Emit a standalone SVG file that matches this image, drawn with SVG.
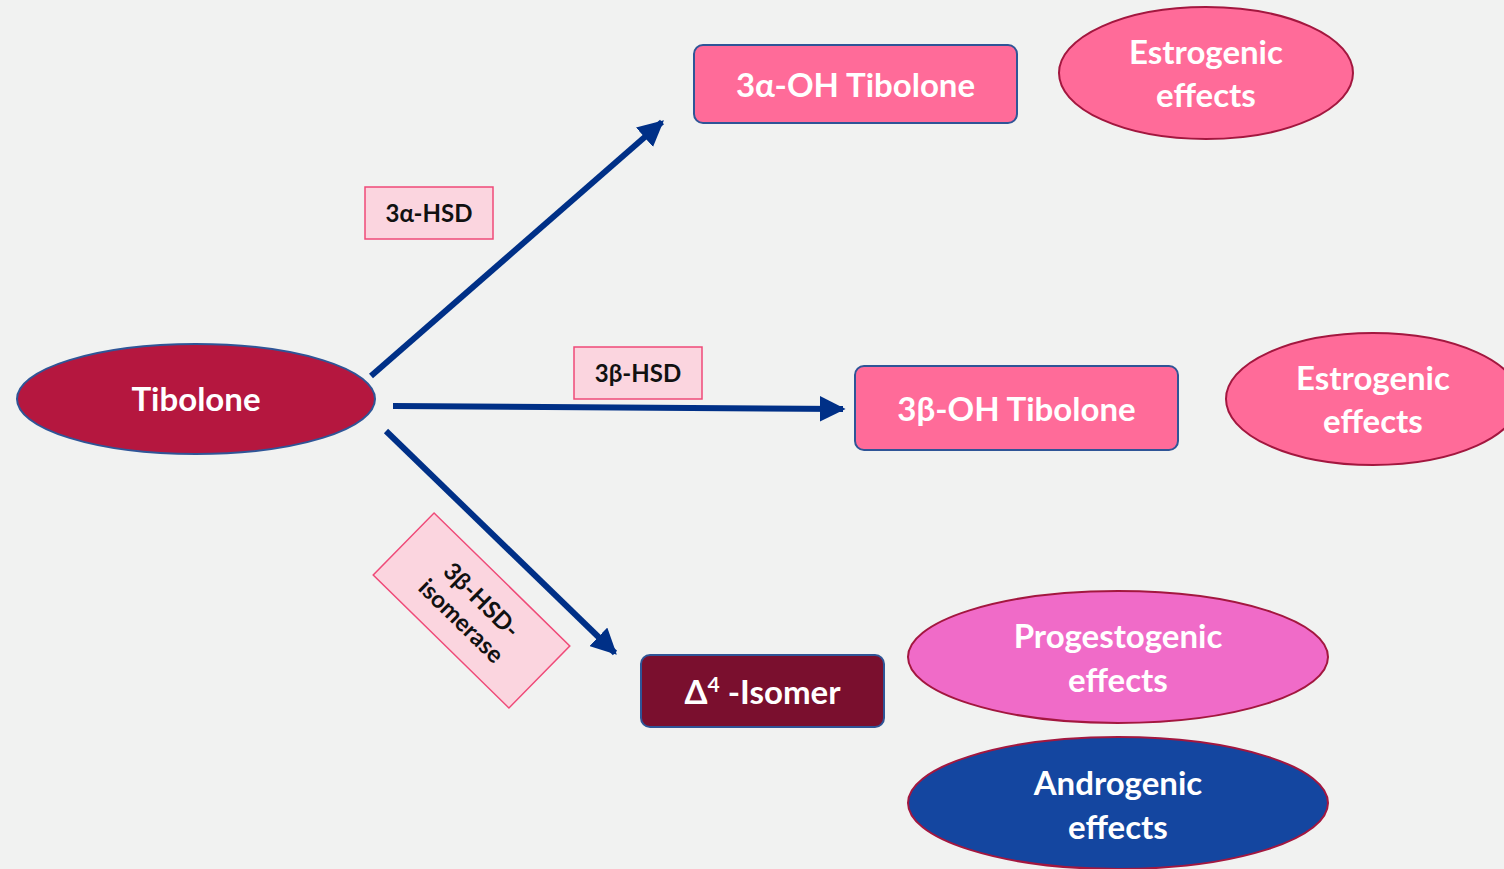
<svg xmlns="http://www.w3.org/2000/svg" width="1504" height="869" viewBox="0 0 1504 869">
<defs>
<marker id="ah" viewBox="0 0 10 10" refX="9" refY="5" markerWidth="4.3" markerHeight="4.3" orient="auto" markerUnits="strokeWidth">
<path d="M0,0 L10,5 L0,10 Z" fill="#003087"/>
</marker>
<style>
text{font-family:Lato,"Open Sans","Liberation Sans",sans-serif;font-weight:bold;text-anchor:middle;}
.big{font-size:33px;fill:#ffffff;}
.lbl{font-size:24px;fill:#111111;}
.lblbox{fill:#fbd5df;stroke:#ef4a78;stroke-width:1.5;}
.conn{stroke:#003087;stroke-width:6;fill:none;marker-end:url(#ah);}
.prod{stroke:#2f5597;stroke-width:2;}
.eff{stroke:#a3173f;stroke-width:2;}
</style>
</defs>
<rect width="1504" height="869" fill="#f1f2f1"/>
<g id="connectors">
<line class="conn" x1="371" y1="376" x2="662" y2="122"/>
<line class="conn" x1="393" y1="406" x2="843" y2="409"/>
<line class="conn" x1="386" y1="431" x2="615" y2="653"/>
</g>
<g id="tibolone">
<ellipse cx="196" cy="399" rx="179" ry="55" fill="#b5173f" class="prod"/>
<text class="big" x="196" y="411">Tibolone</text>
</g>
<g id="label-3a-hsd">
<rect class="lblbox" x="365" y="187" width="128" height="52"/>
<text class="lbl" x="429" y="222">3α-HSD</text>
</g>
<g id="label-3b-hsd">
<rect class="lblbox" x="574" y="347" width="128" height="52"/>
<text class="lbl" x="638" y="382">3β-HSD</text>
</g>
<g id="label-isomerase" transform="translate(471.5,610.5) rotate(44.4)">
<rect class="lblbox" x="-95" y="-43.5" width="190" height="87"/>
<text class="lbl" x="0" y="-6">3β-HSD-</text>
<text class="lbl" x="0" y="23">isomerase</text>
</g>
<g id="alpha-oh">
<rect x="694" y="45" width="323" height="78" rx="9" fill="#ff6b99" class="prod"/>
<text class="big" x="855.5" y="97">3α-OH Tibolone</text>
</g>
<g id="beta-oh">
<rect x="855" y="366" width="323" height="84" rx="9" fill="#ff6b99" class="prod"/>
<text class="big" x="1016.5" y="421">3β-OH Tibolone</text>
</g>
<g id="delta4">
<rect x="641" y="655" width="243" height="72" rx="9" fill="#7a0f2e" class="prod"/>
<text class="big" x="762.5" y="704">Δ<tspan font-size="21" dy="-12">4</tspan><tspan dy="12"> -Isomer</tspan></text>
</g>
<g id="estrogenic-1">
<ellipse cx="1206" cy="73" rx="147" ry="66" fill="#ff6b99" class="eff"/>
<text class="big" x="1206" y="64">Estrogenic</text>
<text class="big" x="1206" y="107">effects</text>
</g>
<g id="estrogenic-2">
<ellipse cx="1373" cy="399" rx="147" ry="66" fill="#ff6b99" class="eff"/>
<text class="big" x="1373" y="390">Estrogenic</text>
<text class="big" x="1373" y="433">effects</text>
</g>
<g id="progestogenic">
<ellipse cx="1118" cy="657" rx="210" ry="66" fill="#f06bc8" class="eff"/>
<text class="big" x="1118" y="648">Progestogenic</text>
<text class="big" x="1118" y="692">effects</text>
</g>
<g id="androgenic">
<ellipse cx="1118" cy="803" rx="210" ry="66" fill="#1446a0" class="eff"/>
<text class="big" x="1118" y="795">Androgenic</text>
<text class="big" x="1118" y="839">effects</text>
</g>
</svg>
